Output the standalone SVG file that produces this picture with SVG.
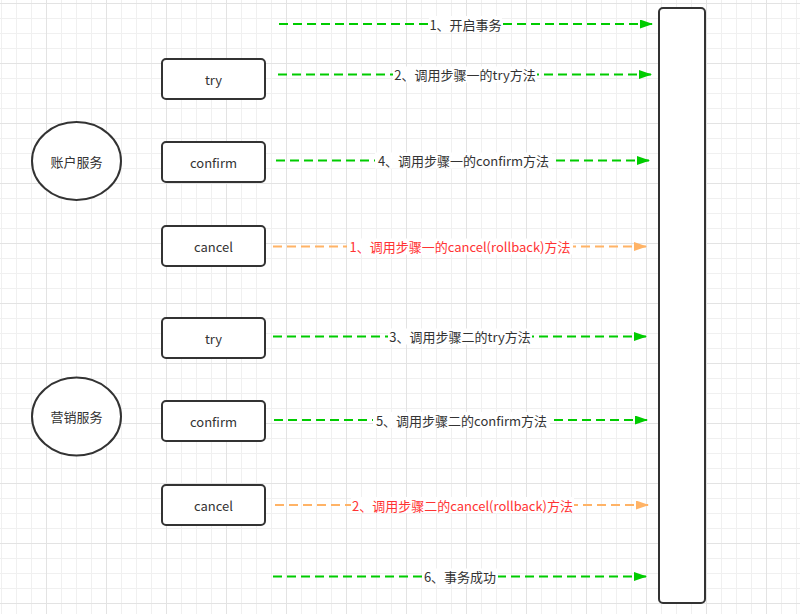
<svg xmlns="http://www.w3.org/2000/svg" width="800" height="614" viewBox="0 0 800 614">
<defs>
<pattern id="minor" patternUnits="userSpaceOnUse" x="1" y="3" width="15" height="15">
<path d="M0 0.5H15M0.5 0V15" stroke="#f0f0f0" stroke-width="1" fill="none"/>
</pattern>
<pattern id="major" patternUnits="userSpaceOnUse" x="46" y="3" width="60" height="60">
<path d="M0 0.5H60M0.5 0V60" stroke="#e3e3e3" stroke-width="1" fill="none"/>
</pattern>
<marker id="ag" viewBox="0 0 13 9" refX="13" refY="4.5" markerWidth="13" markerHeight="9" markerUnits="userSpaceOnUse" orient="auto">
<path d="M0 0L13 4.5L0 9Z" fill="#00CC00"/>
</marker>
<marker id="ao" viewBox="0 0 13 9" refX="13" refY="4.5" markerWidth="13" markerHeight="9" markerUnits="userSpaceOnUse" orient="auto">
<path d="M0 0L13 4.5L0 9Z" fill="#FFB366"/>
</marker>
</defs>
<style>
.box{fill:#fff;stroke:#333;stroke-width:2}
.t{font-family:"Noto Sans CJK SC","Noto Sans",sans-serif;font-size:13px;fill:#333;text-anchor:middle;dominant-baseline:central}
.red{fill:#FF3333}
.g{stroke:#00CC00;stroke-width:2;stroke-dasharray:9 5;fill:none;marker-end:url(#ag)}
.o{stroke:#FFB366;stroke-width:2;stroke-dasharray:9 5;fill:none;marker-end:url(#ao)}
.bg{fill:#fff}
</style>
<rect width="800" height="614" fill="#fff"/>
<rect width="800" height="614" fill="url(#minor)"/>
<rect width="800" height="614" fill="url(#major)"/>

<g id="coordinator"><rect class="box" x="659" y="8" width="46" height="595" rx="4"/></g>

<g id="account"><ellipse class="box" cx="76.5" cy="161" rx="44.5" ry="39"/><text class="t" x="76.5" y="161">账户服务</text></g>
<g id="marketing"><ellipse class="box" cx="76.5" cy="416.5" rx="44.5" ry="39"/><text class="t" x="76.5" y="416.5">营销服务</text></g>

<g id="try1"><rect class="box" x="162" y="59" width="103" height="40" rx="4"/><text class="t" x="213.5" y="79">try</text></g>
<g id="confirm1"><rect class="box" x="162" y="142" width="103" height="40" rx="4"/><text class="t" x="213.5" y="162">confirm</text></g>
<g id="cancel1"><rect class="box" x="162" y="226" width="103" height="40" rx="4"/><text class="t" x="213.5" y="246">cancel</text></g>
<g id="try2"><rect class="box" x="162" y="318" width="103" height="40" rx="4"/><text class="t" x="213.5" y="338">try</text></g>
<g id="confirm2"><rect class="box" x="162" y="401" width="103" height="40" rx="4"/><text class="t" x="213.5" y="421">confirm</text></g>
<g id="cancel2"><rect class="box" x="162" y="485" width="103" height="40" rx="4"/><text class="t" x="213.5" y="505">cancel</text></g>

<g id="connectors">
<path class="g" d="M279 24H653"/>
<path class="g" d="M278 74.5H652"/>
<path class="g" d="M276 160.5H650"/>
<path class="o" d="M273 246.5H647"/>
<path class="g" d="M273 336.5H647"/>
<path class="g" d="M274 420H648"/>
<path class="o" d="M275 505H649"/>
<path class="g" d="M273 576.5H647"/>

<rect class="bg" x="429" y="16" width="73" height="16"/>
<text class="t" x="465.5" y="24">1、开启事务</text>
<rect class="bg" x="393" y="66.5" width="144" height="16"/>
<text class="t" x="465" y="74.5">2、调用步骤一的try方法</text>
<rect class="bg" x="375" y="152.5" width="177" height="16"/>
<text class="t" x="463.5" y="160.5">4、调用步骤一的confirm方法</text>
<rect class="bg" x="347" y="238.5" width="226" height="16"/>
<text class="t red" x="460" y="246.5">1、调用步骤一的cancel(rollback)方法</text>
<rect class="bg" x="388" y="328.5" width="144" height="16"/>
<text class="t" x="460" y="336.5">3、调用步骤二的try方法</text>
<rect class="bg" x="373" y="412" width="177" height="16"/>
<text class="t" x="461.5" y="420">5、调用步骤二的confirm方法</text>
<rect class="bg" x="351" y="497" width="223" height="16"/>
<text class="t red" x="462.5" y="505">2、调用步骤二的cancel(rollback)方法</text>
<rect class="bg" x="422" y="568.5" width="76" height="16"/>
<text class="t" x="460" y="576.5">6、事务成功</text>
</g>
</svg>
